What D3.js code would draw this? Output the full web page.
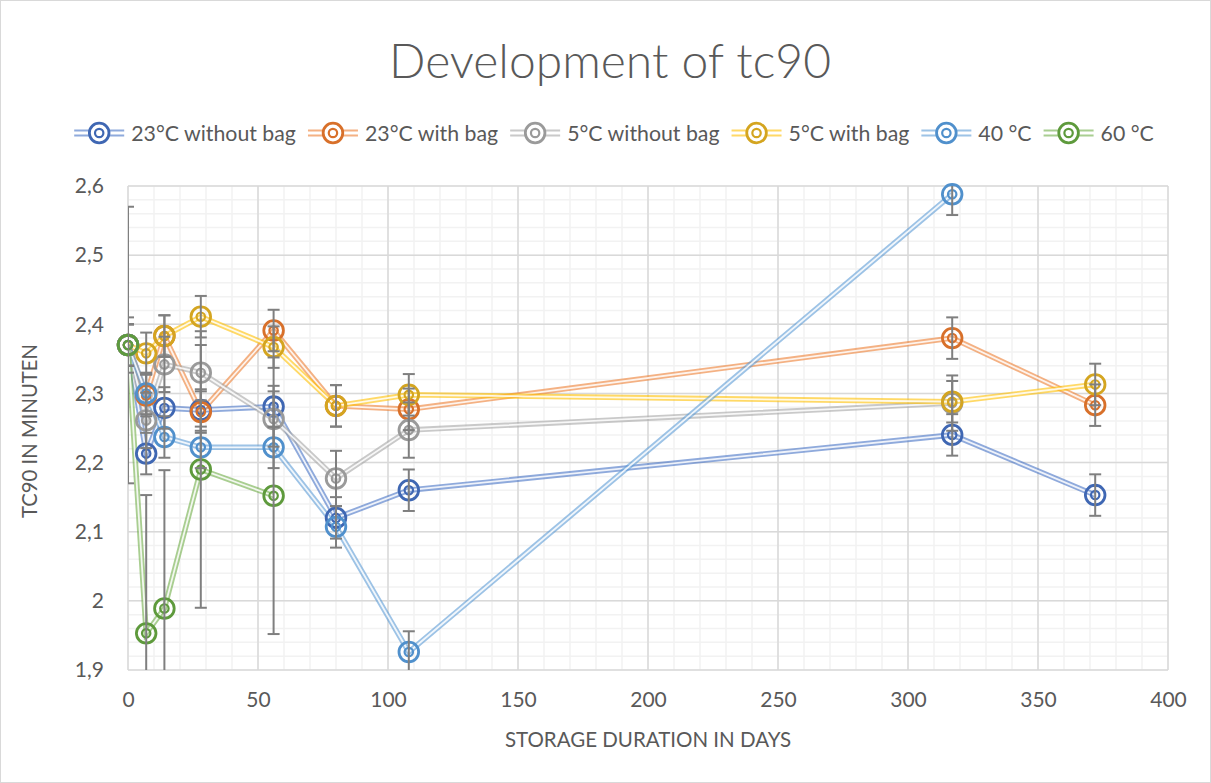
<!DOCTYPE html>
<html>
<head>
<meta charset="utf-8">
<script src="https://cdn.jsdelivr.net/npm/d3@7"></script>
<style>
  html, body { margin: 0; padding: 0; background: #fff; }
  svg { display: block; }
</style>
</head>
<body>
<svg id="chart" width="1211" height="783"></svg>
<script>
// storage days (x values)
var days = [0, 7, 14, 28, 56, 80, 108, 317, 372];

var seriesNames = ["23°C without bag", "23°C with bag", "5°C without bag", "5°C with bag", "40 °C", "60 °C"];

// tc90 values per series (null = no measurement)
var t23NoBag = [2.37, 2.213, 2.279, 2.276, 2.281, 2.120, 2.160, 2.240, 2.153];
var t23Bag   = [2.37, 2.297, 2.383, 2.273, 2.391, 2.282, 2.277, 2.380, 2.283];
var t5NoBag  = [2.37, 2.261, 2.342, 2.330, 2.263, 2.177, 2.247, 2.286, null];
var t5Bag    = [2.37, 2.358, 2.383, 2.411, 2.367, 2.282, 2.298, 2.288, 2.313];
var t40      = [2.37, 2.300, 2.237, 2.222, 2.222, 2.107, 1.926, 2.588, null];
var t60      = [2.37, 1.953, 1.989, 2.190, 2.152, null, null, null, null];

// error bar half widths per series
var e23NoBag = [0.03, 0.03, 0.03, 0.03, 0.03, 0.03, 0.03, 0.03, 0.03];
var e23Bag   = [0.03, 0.03, 0.03, 0.03, 0.03, 0.03, 0.03, 0.03, 0.03];
var e5NoBag  = [0.04, 0.04, 0.04, 0.04, 0.04, 0.04, 0.04, 0.04, null];
var e5Bag    = [0.03, 0.03, 0.03, 0.03, 0.03, 0.03, 0.03, 0.03, 0.03];
var e40      = [0.03, 0.03, 0.03, 0.03, 0.03, 0.03, 0.03, 0.03, null];
var e60      = [0.2, 0.2, 0.2, 0.2, 0.2, null, null, null, null];

var xTicks = [0, 50, 100, 150, 200, 250, 300, 350, 400];
var yTicks = [1.9, 2.0, 2.1, 2.2, 2.3, 2.4, 2.5, 2.6];

var lineColors   = ["#4472C4", "#ED7D31", "#A5A5A5", "#FFC000", "#5B9BD5", "#70AD47"];
var markerColors = ["#3F67B3", "#D8702A", "#9A9A9A", "#D4A520", "#5090CC", "#5E9A3C"];

var values = [t23NoBag, t23Bag, t5NoBag, t5Bag, t40, t60];
var errors = [e23NoBag, e23Bag, e5NoBag, e5Bag, e40, e60];

var series = seriesNames.map(function (name, i) {
    return {
        name: name,
        line: lineColors[i],
        marker: markerColors[i],
        points: days.map(function (d, j) {
            return { x: d, y: values[i][j], e: errors[i][j] };
        }).filter(function (p) { return p.y != null; })
    };
});

var svg = d3.select("#chart");
var W = 1211, H = 783;
var pLeft = 128, pRight = 1168, pTop = 186, pBottom = 670;
var font = "Lato, 'Open Sans', sans-serif";
var textColor = "#595959";

svg.append("rect")
    .attr("x", 0.5).attr("y", 0.5)
    .attr("width", W - 1).attr("height", H - 1)
    .attr("fill", "#fff")
    .attr("stroke", "#d9d9d9");

var x = d3.scaleLinear().domain([0, 400]).range([pLeft, pRight]);
var y = d3.scaleLinear().domain([1.9, 2.6]).range([pBottom, pTop]);

// minor grid
var g = svg.append("g");
d3.range(0, 401, 10).forEach(function (v) {
    g.append("line")
        .attr("x1", x(v)).attr("x2", x(v))
        .attr("y1", pTop).attr("y2", pBottom)
        .attr("stroke", "#f2f2f2").attr("stroke-width", 1.5);
});
d3.range(0, 36).forEach(function (k) {
    var v = 1.9 + k * 0.02;
    g.append("line")
        .attr("x1", pLeft).attr("x2", pRight)
        .attr("y1", y(v)).attr("y2", y(v))
        .attr("stroke", "#f2f2f2").attr("stroke-width", 1.5);
});
// major grid
xTicks.forEach(function (v) {
    g.append("line")
        .attr("x1", x(v)).attr("x2", x(v))
        .attr("y1", pTop).attr("y2", pBottom)
        .attr("stroke", "#d9d9d9").attr("stroke-width", 1.5);
});
yTicks.forEach(function (v) {
    g.append("line")
        .attr("x1", pLeft).attr("x2", pRight)
        .attr("y1", y(v)).attr("y2", y(v))
        .attr("stroke", "#d9d9d9").attr("stroke-width", 1.5);
});

// axes
var fmtY = function (v) { return String(Math.round(v * 10) / 10).replace(".", ","); };
var yAxis = svg.append("g")
    .attr("transform", "translate(" + pLeft + ",0)")
    .call(d3.axisLeft(y).tickValues(yTicks).tickFormat(fmtY).tickSize(0).tickPadding(24));
var xAxis = svg.append("g")
    .attr("transform", "translate(0," + pBottom + ")")
    .call(d3.axisBottom(x).tickValues(xTicks).tickFormat(d3.format("d")).tickSize(0).tickPadding(22));
[xAxis, yAxis].forEach(function (a) {
    a.select(".domain").remove();
    a.selectAll("text")
        .attr("fill", textColor)
        .style("font-family", font)
        .style("font-size", "21px");
});

// clip lines and error bars to the plot area
svg.append("clipPath").attr("id", "plotClip")
    .append("rect")
    .attr("x", pLeft).attr("y", pTop)
    .attr("width", pRight - pLeft).attr("height", pBottom - pTop);

var plot = svg.append("g").attr("clip-path", "url(#plotClip)");

var line = d3.line()
    .x(function (p) { return x(p.x); })
    .y(function (p) { return y(p.y); });

// double lines
series.forEach(function (s) {
    var sg = plot.append("g");
    sg.append("path")
        .attr("d", line(s.points))
        .attr("fill", "none")
        .attr("stroke", s.line)
        .attr("stroke-opacity", 0.6)
        .attr("stroke-width", 5.5);
    sg.append("path")
        .attr("d", line(s.points))
        .attr("fill", "none")
        .attr("stroke", "#fff")
        .attr("stroke-opacity", 0.85)
        .attr("stroke-width", 1.8);
});

// markers
function drawMarker(sel, cx, cy, color) {
    sel.append("circle")
        .attr("cx", cx).attr("cy", cy).attr("r", 9.8)
        .attr("fill", "none")
        .attr("stroke", color).attr("stroke-width", 2.8);
    sel.append("circle")
        .attr("cx", cx).attr("cy", cy).attr("r", 4.2)
        .attr("fill", "none")
        .attr("stroke", color).attr("stroke-width", 2.2);
}

var markers = svg.append("g");
series.forEach(function (s) {
    var mg = markers.append("g");
    s.points.forEach(function (p) {
        drawMarker(mg, x(p.x), y(p.y), s.marker);
    });
});

// error bars
var eg = svg.append("g")
    .attr("clip-path", "url(#plotClip)")
    .attr("stroke", "#7f7f7f")
    .attr("stroke-width", 2);
series.forEach(function (s) {
    s.points.forEach(function (p) {
        if (p.e == null) return;
        var cx = x(p.x), y0 = y(p.y - p.e), y1 = y(p.y + p.e);
        eg.append("line").attr("x1", cx).attr("x2", cx).attr("y1", y0).attr("y2", y1);
        eg.append("line").attr("x1", cx - 6).attr("x2", cx + 6).attr("y1", y0).attr("y2", y0);
        eg.append("line").attr("x1", cx - 6).attr("x2", cx + 6).attr("y1", y1).attr("y2", y1);
    });
});

// title
svg.append("text")
    .attr("x", 610).attr("y", 78)
    .attr("text-anchor", "middle")
    .attr("fill", textColor)
    .style("font-family", font)
    .style("font-weight", 300)
    .style("font-size", "48px")
    .text("Development of tc90");

// axis titles
svg.append("text")
    .attr("x", 648).attr("y", 747)
    .attr("text-anchor", "middle")
    .attr("fill", textColor)
    .style("font-family", font)
    .style("font-size", "20.5px")
    .text("STORAGE DURATION IN DAYS");

svg.append("text")
    .attr("transform", "translate(37,431) rotate(-90)")
    .attr("text-anchor", "middle")
    .attr("fill", textColor)
    .style("font-family", font)
    .style("font-size", "20.3px")
    .text("TC90 IN MINUTEN");

// legend
var legend = svg.append("g");
var lx = 0, ly = 133;
series.forEach(function (s) {
    var it = legend.append("g");
    it.append("line")
        .attr("x1", 0).attr("x2", 50).attr("y1", -2.5).attr("y2", -2.5)
        .attr("stroke", s.line).attr("stroke-opacity", 0.6).attr("stroke-width", 1.8);
    it.append("line")
        .attr("x1", 0).attr("x2", 50).attr("y1", 2.5).attr("y2", 2.5)
        .attr("stroke", s.line).attr("stroke-opacity", 0.6).attr("stroke-width", 1.8);
    it.append("circle").attr("cx", 25).attr("cy", 0).attr("r", 10).attr("fill", "#fff");
    drawMarker(it, 25, 0, s.marker);
    var t = it.append("text")
        .attr("x", 57).attr("y", 7.5)
        .attr("fill", textColor)
        .style("font-family", font)
        .style("font-size", "21.3px")
        .text(s.name);
    var w = 57 + t.node().getComputedTextLength();
    it.attr("transform", "translate(" + lx + "," + ly + ")");
    lx += w + 12;
});
var total = lx - 12;
legend.attr("transform", "translate(" + (614 - total / 2) + ",0)");
</script>
</body>
</html>
